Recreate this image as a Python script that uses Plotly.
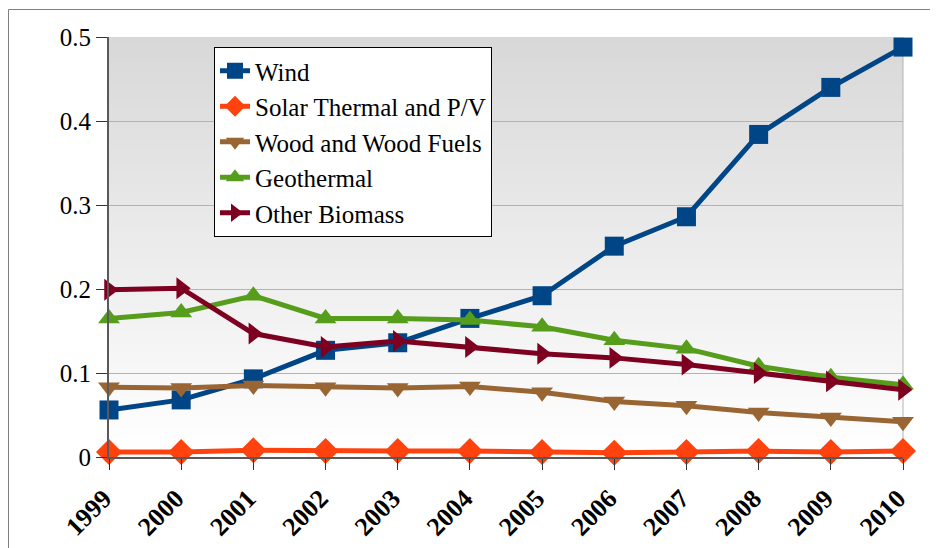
import plotly.graph_objects as go

years = ["1999", "2000", "2001", "2002", "2003", "2004", "2005", "2006", "2007", "2008", "2009", "2010"]
wind = [0.056, 0.068, 0.093, 0.127, 0.136, 0.165, 0.192, 0.251, 0.286, 0.384, 0.440, 0.488]
solar = [0.006, 0.006, 0.008, 0.007, 0.007, 0.007, 0.006, 0.005, 0.006, 0.007, 0.006, 0.007]
wood = [0.083, 0.082, 0.085, 0.083, 0.082, 0.084, 0.077, 0.066, 0.061, 0.053, 0.047, 0.042]
geothermal = [0.165, 0.172, 0.192, 0.165, 0.165, 0.163, 0.155, 0.139, 0.129, 0.108, 0.095, 0.086]
other_biomass = [0.199, 0.201, 0.147, 0.131, 0.138, 0.131, 0.123, 0.118, 0.110, 0.100, 0.090, 0.080]
y_ticks = [0, 0.1, 0.2, 0.3, 0.4, 0.5]
y_tick_labels = ["0", "0.1", "0.2", "0.3", "0.4", "0.5"]

series = [
    ("Wind", wind, "#004586", "square", 19),
    ("Solar Thermal and P/V", solar, "#ff420e", "diamond", 20),
    ("Wood and Wood Fuels", wood, "#996633", "triangle-down", 19),
    ("Geothermal", geothermal, "#579d1c", "triangle-up", 19),
    ("Other Biomass", other_biomass, "#7e0021", "triangle-right", 19),
]

FONT = "Liberation Serif, Times New Roman, serif"

# page has an 8px body margin, so figure is sized/positioned to compensate
OFF = 8
W, H = 938 - OFF, 548 - OFF
PL, PT, PR, PB = 109 - OFF, 37 - OFF, 903 - OFF, 457 - OFF
ML, MT, MR, MB = PL, PT, W - PR, H - PB

fig = go.Figure()
for name, vals, color, sym, size in series:
    fig.add_trace(go.Scatter(
        x=list(range(len(years))), y=vals, name=name, mode="lines+markers",
        line=dict(color=color, width=5),
        marker=dict(symbol=sym, size=size, color=color),
        cliponaxis=False,
    ))

shapes = []
n = 60
for i in range(n):
    t = i / (n - 1)
    v = int(round(216 + (255 - 216) * t))
    c = f"rgb({v},{v},{v})"
    shapes.append(dict(type="rect", xref="x domain", yref="y domain",
                       x0=0, x1=1, y0=1 - (i + 1) / n, y1=1 - i / n,
                       fillcolor=c, line=dict(width=0), layer="below"))
shapes.append(dict(type="line", xref="x domain", yref="y domain", x0=1, x1=1, y0=0, y1=1,
                   line=dict(color="#b3b3b3", width=1), layer="below"))
pw = W - ML - MR
ph = H - MT - MB
shapes.append(dict(type="rect", xref="paper", yref="paper",
                   x0=(0.5 - ML) / pw, x1=(W + 5 - ML) / pw,
                   y0=(PB - (H + 5)) / ph, y1=(PB - 1.5) / ph,
                   line=dict(color="#808080", width=1), fillcolor="rgba(0,0,0,0)"))

fig.update_layout(
    width=W, height=H,
    margin=dict(l=ML, r=MR, t=MT, b=MB),
    paper_bgcolor="white", plot_bgcolor="white",
    font=dict(family=FONT, color="black"),
    shapes=shapes,
    showlegend=True,
    legend=dict(x=(214 - OFF - ML) / pw, y=(PB - (47 - OFF)) / ph, xanchor="left", yanchor="top",
                bgcolor="white", bordercolor="black", borderwidth=1,
                font=dict(size=25, family=FONT, color="black"),
                tracegroupgap=0, itemwidth=30),
    xaxis=dict(range=[0, len(years) - 1], tickmode="array",
               tickvals=list(range(len(years))), ticktext=years,
               tickangle=-45, tickfont=dict(size=26, family=FONT, color="black", weight="bold"),
               ticklabelshift=-5, ticklabelstandoff=3,
               showgrid=False, showline=True, linecolor="#595959", linewidth=2,
               ticks="outside", ticklen=11, tickcolor="#333333", tickwidth=1,
               zeroline=False, fixedrange=True, automargin=False),
    yaxis=dict(range=[0, 0.5], tickmode="array", tickvals=y_ticks, ticktext=y_tick_labels,
               tickfont=dict(size=25, family=FONT, color="black"),
               showgrid=True, gridcolor="#b3b3b3", gridwidth=1,
               showline=True, linecolor="#595959", linewidth=2,
               ticks="outside", ticklen=11, tickcolor="#333333", tickwidth=1,
               zeroline=False, fixedrange=True, automargin=False),
)

fig.write_html("out.html")
